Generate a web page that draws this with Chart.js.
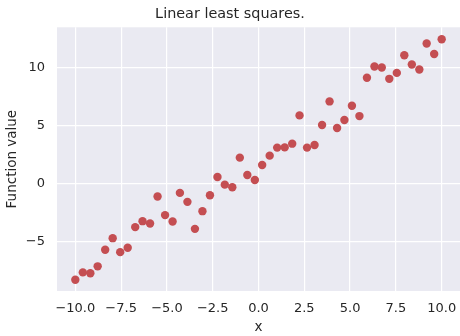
<!DOCTYPE html>
<html>
<head>
<meta charset="utf-8">
<script src="https://cdn.jsdelivr.net/npm/chart.js@4"></script>
<style>
    html, body { margin: 0; padding: 0; background: #ffffff; }
    #wrap { width: 460px; height: 336px; }
</style>
</head>
<body>
<div id="wrap"><canvas id="chart" width="460" height="336"></canvas></div>
<script>
const xValues = [-10.0, -9.59, -9.18, -8.78, -8.37, -7.96, -7.55, -7.14, -6.73, -6.33,
    -5.92, -5.51, -5.10, -4.69, -4.29, -3.88, -3.47, -3.06, -2.65, -2.24,
    -1.84, -1.43, -1.02, -0.61, -0.20, 0.20, 0.61, 1.02, 1.43, 1.84,
    2.24, 2.65, 3.06, 3.47, 3.88, 4.29, 4.69, 5.10, 5.51, 5.92,
    6.33, 6.73, 7.14, 7.55, 7.96, 8.37, 8.78, 9.18, 9.59, 10.0];
const yValues = [-8.26, -7.63, -7.71, -7.11, -5.69, -4.69, -5.89, -5.51, -3.74, -3.23,
    -3.43, -1.11, -2.71, -3.26, -0.80, -1.57, -3.89, -2.37, -1.00, 0.57,
    -0.09, -0.31, 2.23, 0.74, 0.31, 1.60, 2.40, 3.09, 3.11, 3.43,
    5.86, 3.09, 3.31, 5.03, 7.06, 4.77, 5.46, 6.69, 5.80, 9.09,
    10.06, 9.97, 9.00, 9.51, 11.03, 10.23, 9.80, 12.03, 11.14, 12.40];
const xTickStep = 2.5;
const yTickStep = 5;

const textColor = '#262626';
const fontFamily = '"DejaVu Sans", sans-serif';

function fmtMinus(v, digits) {
    let s = v.toFixed(digits);
    return s.replace('-', '\u2212');
}

// grey panel behind the plot area, seaborn darkgrid style
const panelBackground = {
    id: 'panelBackground',
    beforeDraw(chart) {
        const { ctx, chartArea } = chart;
        ctx.save();
        ctx.fillStyle = '#EAEAF2';
        ctx.fillRect(chartArea.left, chartArea.top, chartArea.right - chartArea.left, chartArea.bottom - chartArea.top);
        ctx.restore();
    }
};

let points = xValues.map(function (x, i) {
    return { x: x, y: yValues[i] };
});

new Chart(document.getElementById('chart'), {
    type: 'scatter',
    data: {
        datasets: [{
            label: 'data',
            data: points,
            backgroundColor: '#C44E52',
            borderWidth: 0,
            pointRadius: 4.2,
            pointHoverRadius: 4.2
        }]
    },
    options: {
        responsive: false,
        animation: false,
        layout: { autoPadding: false, padding: 0 },
        plugins: {
            legend: { display: false },
            tooltip: { enabled: false },
            title: {
                display: true,
                text: 'Linear least squares.',
                color: textColor,
                font: { family: fontFamily, size: 14.4, weight: 'normal' },
                padding: { top: 6, bottom: 4 }
            }
        },
        scales: {
            x: {
                type: 'linear',
                min: -11,
                max: 11,
                afterFit: function (scale) {
                    scale.height = 45;
                    scale.paddingLeft = 0;
                    scale.paddingRight = 0;
                },
                border: { display: false },
                grid: { color: '#ffffff', lineWidth: 1.2, drawTicks: false },
                ticks: {
                    stepSize: xTickStep,
                    includeBounds: false,
                    color: textColor,
                    padding: 10,
                    maxRotation: 0,
                    font: { family: fontFamily, size: 13 },
                    callback: function (v) { return fmtMinus(v, 1); }
                },
                title: {
                    display: true,
                    text: 'x',
                    color: textColor,
                    padding: { top: 0, bottom: 0 },
                    font: { family: fontFamily, size: 13.5 }
                }
            },
            y: {
                type: 'linear',
                min: -9.23,
                max: 13.43,
                afterFit: function (scale) {
                    scale.width = 57;
                    scale.paddingTop = 0;
                    scale.paddingBottom = 0;
                },
                border: { display: false },
                grid: { color: '#ffffff', lineWidth: 1.2, drawTicks: false },
                ticks: {
                    stepSize: yTickStep,
                    includeBounds: false,
                    color: textColor,
                    padding: 12,
                    font: { family: fontFamily, size: 13 },
                    callback: function (v) { return fmtMinus(v, 0); }
                },
                title: {
                    display: true,
                    text: 'Function value',
                    color: textColor,
                    padding: { top: 4, bottom: 4 },
                    font: { family: fontFamily, size: 13.5 }
                }
            }
        }
    },
    plugins: [panelBackground]
});
</script>
</body>
</html>
